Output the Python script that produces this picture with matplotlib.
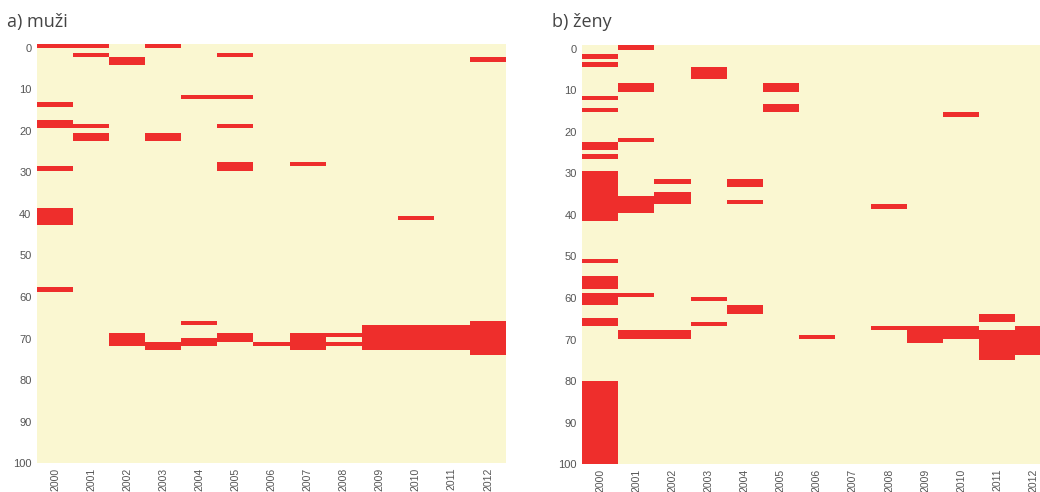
import matplotlib
matplotlib.use("Agg")
import matplotlib.pyplot as plt

# --- Data ---
years = [2000, 2001, 2002, 2003, 2004, 2005, 2006, 2007, 2008, 2009, 2010, 2011, 2012]
age_ticks = [0, 10, 20, 30, 40, 50, 60, 70, 80, 90, 100]

# a) muzi: year, age interval start, age interval end
men_year = [2000, 2000, 2000, 2000, 2000, 2000,
            2001, 2001, 2001, 2001,
            2002, 2002,
            2003, 2003, 2003,
            2004, 2004, 2004,
            2005, 2005, 2005, 2005, 2005,
            2006,
            2007, 2007,
            2008, 2008,
            2009,
            2010, 2010,
            2011,
            2012, 2012]
men_start = [-0.9, 13.2, 17.4, 28.5, 38.5, 57.7,
             -0.9, 1.2, 18.4, 20.5,
             2.3, 68.7,
             -0.9, 20.5, 70.8,
             11.4, 65.7, 69.8,
             1.2, 11.4, 18.4, 27.5, 68.7,
             70.8,
             27.5, 68.7,
             68.7, 70.8,
             66.7,
             40.5, 66.7,
             66.7,
             2.3, 65.7]
men_end = [0.2, 14.3, 19.4, 29.6, 42.7, 58.8,
           0.2, 2.3, 19.4, 22.5,
           4.3, 71.8,
           0.2, 22.5, 72.8,
           12.3, 66.7, 71.8,
           2.3, 12.3, 19.4, 29.6, 70.8,
           71.8,
           28.6, 72.8,
           69.7, 71.8,
           72.8,
           41.6, 72.8,
           72.8,
           3.4, 73.9]

# b) zeny
women_year = [2000] * 12 + [2001] * 6 + [2002] * 3 + [2003] * 3 + [2004] * 3 + \
             [2005] * 2 + [2006] + [2008] * 2 + [2009] + [2010] * 2 + [2011] * 2 + [2012]
women_start = [1.2, 3.3, 11.4, 14.2, 22.4, 25.4, 29.5, 50.6, 54.6, 58.7, 64.8, 80.0,
               -0.9, 8.4, 21.4, 35.5, 58.7, 67.7,
               31.4, 34.5, 67.7,
               4.4, 59.7, 65.7,
               31.4, 36.5, 61.7,
               8.4, 13.3,
               68.8,
               37.5, 66.8,
               66.8,
               15.3, 66.8,
               63.9, 67.7,
               66.8]
women_end = [2.4, 4.4, 12.4, 15.3, 24.5, 26.6, 41.5, 51.7, 57.8, 61.8, 66.8, 100.0,
             0.3, 10.5, 22.5, 39.5, 59.8, 69.8,
             32.5, 37.5, 69.8,
             7.4, 60.8, 66.8,
             33.4, 37.5, 63.9,
             10.5, 15.3,
             69.8,
             38.6, 67.7,
             70.8,
             16.4, 69.8,
             65.7, 74.8,
             73.8]

RED = "#EE2E2C"
YELLOW = "#FAF7D1"
TXT = "#555555"

fig = plt.figure(figsize=(10.4, 4.92), dpi=100)

panels = [
    ("a) muži", men_year, men_start, men_end, [37 / 1040, 28.7 / 492, 469 / 1040, 419.3 / 492], 7 / 1040),
    ("b) ženy", women_year, women_start, women_end, [582.3 / 1040, 27.7 / 492, 469 / 1040, 419.3 / 492], 552 / 1040),
]

for title, yr, st, en, pos, tx in panels:
    ax = fig.add_axes(pos)
    ax.set_facecolor(YELLOW)
    xs = [years.index(y) for y in yr]
    heights = [e - s for s, e in zip(st, en)]
    ax.bar(xs, heights, bottom=st, width=1.0, color=RED, linewidth=0)
    ax.set_xlim(-0.5, len(years) - 0.5)
    ax.set_ylim(100, -0.85)
    ax.set_yticks(age_ticks)
    ax.set_yticklabels([str(a) for a in age_ticks], family="Liberation Sans", fontsize=8, color=TXT)
    ax.set_xticks(range(len(years)))
    ax.set_xticklabels([str(y) for y in years], rotation=90, family="Liberation Sans",
                       fontsize=7.5, color=TXT, va="top")
    ax.tick_params(axis="y", length=0, pad=4)
    ax.tick_params(axis="x", length=0, pad=3)
    for s in ax.spines.values():
        s.set_visible(False)
    fig.text(tx, 1 - 22 / 492, title, family="Open Sans", fontsize=13, color="#444444",
             va="center", ha="left")

fig.savefig("out.png", dpi=100)
